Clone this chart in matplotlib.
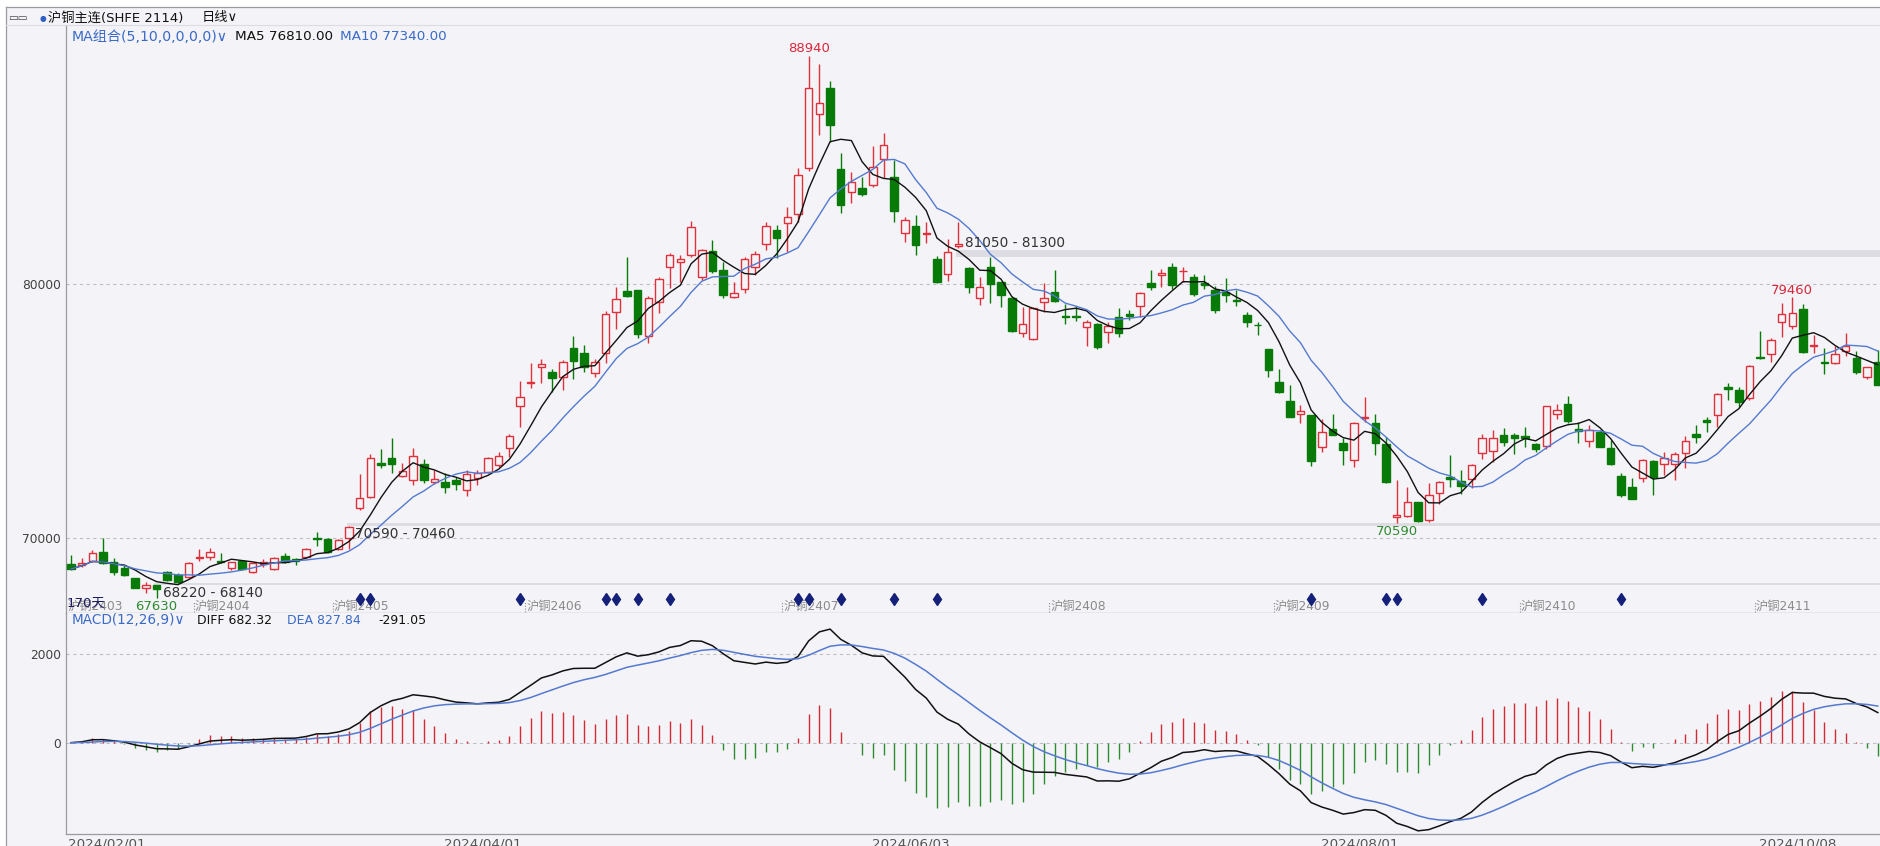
import numpy as np
import pandas as pd
import matplotlib
matplotlib.use("Agg")
import matplotlib.pyplot as plt
from matplotlib.patches import Rectangle
from matplotlib.lines import Line2D
import matplotlib.transforms as mtransforms

plt.rcParams['font.family'] = ['DejaVu Sans', 'Noto Sans CJK SC']

# ---------------- data (daily OHLC, SHFE copper main contract) ----------------
opens = [68950, 68930, 69090, 69450, 69060, 68820, 68400, 68040, 68140, 68640,
         68530, 68440, 69190, 69260, 69090, 68820, 69090, 68670, 68950, 68770,
         69290, 69150, 69260, 70000, 69950, 69560, 69980, 71180, 71620, 72950,
         73120, 72440, 72270, 72900, 72180, 72180, 72270, 71880, 72340, 72600,
         72860, 73520, 75180, 76080, 76730, 76520, 76340, 77450, 77280, 76470,
         77280, 78890, 79710, 79750, 77940, 79290, 80660, 80830, 81120, 80270,
         81290, 80530, 79460, 79770, 80660, 81560, 82110, 82370, 82740, 84530,
         86670, 87680, 84510, 83610, 83750, 83880, 84890, 84180, 82000, 82280,
         81950, 80970, 80380, 81490, 80600, 79420, 80640, 80070, 79420, 78040,
         77810, 79260, 79670, 78740, 78740, 78300, 78410, 78110, 78700, 78800,
         79130, 80010, 80350, 80640, 80480, 80270, 80010, 79750, 79680, 79350,
         78760, 78380, 77410, 76110, 75390, 74870, 74830, 73580, 74270, 73720,
         73060, 74700, 74530, 73670, 70800, 70870, 71420, 70700, 71750, 72400,
         72230, 72300, 73350, 73420, 74040, 74030, 74000, 73670, 73610, 74870,
         75250, 74260, 73820, 74170, 73520, 72430, 71980, 72340, 73030, 72900,
         72900, 73350, 74070, 74630, 74830, 75920, 75810, 75480, 77120, 77230,
         78500, 78340, 79000, 77540, 76900, 76860, 77350, 77060, 76340, 76930]
highs = [69320, 69220, 69520, 70000, 69190, 68930, 68400, 68270, 68140, 68690,
         68600, 69060, 69560, 69580, 69410, 69060, 69120, 69060, 69160, 69260,
         69390, 69220, 69610, 70210, 69980, 69950, 70470, 72490, 73280, 73480,
         73910, 72930, 73540, 73090, 72670, 72530, 72400, 72670, 72670, 73190,
         73390, 74080, 76180, 76860, 77030, 76630, 76990, 77940, 77580, 77030,
         78930, 79850, 81060, 79750, 79510, 80270, 81210, 81120, 82470, 81340,
         81710, 80860, 80070, 81060, 81290, 82430, 82300, 83020, 84530, 88940,
         88640, 87980, 85120, 84400, 84180, 85410, 85910, 84860, 82630, 82700,
         82430, 81080, 81740, 82430, 80660, 80270, 81030, 80070, 79460, 79090,
         79060, 80010, 80530, 79200, 79120, 78570, 78430, 78500, 79020, 78960,
         79680, 80530, 80560, 80790, 80640, 80360, 80340, 79900, 80200, 79750,
         78890, 78500, 77410, 76630, 76010, 75220, 74830, 74660, 74870, 73910,
         74570, 75520, 74850, 73980, 72270, 71980, 71420, 72140, 72240, 73250,
         72660, 72900, 74080, 74240, 74300, 74110, 74370, 73740, 75180, 75250,
         75570, 74570, 74430, 74240, 73840, 72530, 72340, 73080, 73060, 73390,
         73390, 74000, 74440, 74760, 75710, 76100, 75920, 76800, 78130, 77870,
         79220, 79460, 79180, 77980, 77450, 77540, 78070, 77360, 76730, 77390]
lows = [68730, 68860, 69060, 68950, 68530, 68500, 68010, 67810, 67630, 68310,
        68230, 68400, 69090, 69120, 68990, 68720, 68730, 68600, 68860, 68730,
        68990, 68930, 69190, 69680, 69390, 69520, 69560, 71090, 71550, 72730,
        72530, 72400, 72080, 72140, 72120, 71750, 71880, 71640, 72080, 72530,
        72800, 73190, 74370, 75880, 76070, 75750, 75810, 76230, 76530, 76340,
        76860, 78200, 79460, 77840, 77650, 78830, 79810, 80070, 81060, 80140,
        80400, 79420, 79420, 79620, 80340, 81320, 80990, 81250, 82430, 84440,
        85840, 85580, 82760, 83180, 83440, 83810, 84140, 82430, 81650, 81120,
        81580, 80010, 80110, 81390, 79620, 79160, 79220, 79090, 78110, 77910,
        77780, 78890, 79290, 78410, 78540, 77540, 77430, 77650, 77880, 78570,
        78670, 79750, 79850, 79770, 80070, 79510, 79770, 78850, 79290, 79120,
        78280, 77980, 76310, 75680, 74740, 74530, 72820, 73390, 74040, 72860,
        72770, 74570, 73250, 72170, 70590, 70830, 70630, 70630, 71330, 72010,
        71720, 71940, 73080, 72990, 73610, 73280, 73580, 73390, 73480, 74660,
        74530, 73740, 73560, 73560, 72860, 71620, 71510, 72210, 71680, 72470,
        72270, 72730, 73740, 74170, 74370, 75420, 75130, 75420, 77020, 76930,
        77910, 78200, 77280, 77250, 76440, 76830, 77150, 76440, 76230, 76010]
closes = [68770, 69020, 69410, 68990, 68670, 68530, 68040, 68140, 67980, 68340,
          68270, 69020, 69260, 69430, 69030, 69030, 68770, 68990, 69060, 69220,
          69060, 69100, 69540, 69940, 69430, 69910, 70440, 71580, 73120, 72860,
          72900, 72630, 73230, 72270, 72300, 72010, 72100, 72500, 72530, 73120,
          73230, 74020, 75520, 76130, 76820, 76270, 76930, 76970, 76730, 76930,
          78790, 79380, 79510, 78000, 79420, 80180, 81120, 80950, 82210, 81320,
          80510, 79550, 79620, 80970, 81150, 82280, 81780, 82610, 84270, 87680,
          87090, 86240, 83090, 84010, 83520, 84600, 85450, 82870, 82500, 81520,
          81980, 80070, 81250, 81540, 79880, 79880, 79980, 79550, 78130, 78400,
          79020, 79420, 79330, 78700, 78670, 78500, 77520, 78340, 78070, 78720,
          79640, 79880, 80400, 79940, 80500, 79590, 79940, 78960, 79550, 79310,
          78500, 78360, 76600, 75750, 74740, 75000, 73030, 74170, 74040, 73450,
          74500, 74760, 73710, 72210, 70890, 71420, 70670, 71680, 72190, 72300,
          72030, 72860, 73940, 73910, 73780, 73940, 73940, 73480, 75180, 75020,
          74590, 74210, 74240, 73580, 72900, 71680, 71510, 73060, 72380, 73150,
          73280, 73820, 73980, 74540, 75650, 75850, 75350, 76770, 77080, 77780,
          78790, 78850, 77320, 77580, 76860, 77210, 77540, 76530, 76730, 76010]

date_labels = ["2024/02/01", "2024/04/01", "2024/06/03", "2024/08/01", "2024/10/08"]
date_index = [0, 36, 76, 118, 159]
contracts = ["沪铜2403", "沪铜2404", "沪铜2405", "沪铜2406", "沪铜2407",
             "沪铜2408", "沪铜2409", "沪铜2410", "沪铜2411"]
contract_start = [0, 12, 25, 43, 67, 92, 113, 136, 158]
signal_index = [27, 28, 42, 50, 51, 53, 56, 68, 69, 72, 77, 81, 116, 123, 124, 132, 145]
gap_start = [8, 26, 83]
gap_low = [68140, 70460, 81050]
gap_high = [68220, 70590, 81300]
gap_text = ["68220 - 68140", "70590 - 70460", "81050 - 81300"]
gap_text_above = [False, False, True]

y_ticks_price = [70000, 80000]
y_ticks_macd = [0, 2000]

# ---------------- indicators ----------------
c = pd.Series(closes, dtype=float)
ma5 = c.rolling(5, min_periods=1).mean()
ma10 = c.rolling(10, min_periods=1).mean()
ema12 = c.ewm(span=12, adjust=False).mean()
ema26 = c.ewm(span=26, adjust=False).mean()
diff = ema12 - ema26
dea = diff.ewm(span=9, adjust=False).mean()
macd = 2 * (diff - dea)

n = len(closes)
x = np.arange(n)

# ---------------- figure ----------------
W, H = 1881, 846
BG = '#F4F4F8'
RED = '#E0303A'
GREEN = '#087A08'
BLUE = '#5479D0'
GRIDC = '#BDBDC4'
fig = plt.figure(figsize=(W / 100, H / 100), dpi=100, facecolor=BG)

def fx(px):
    return px / W

def fy(py):
    return 1 - py / H

TOP_LINE = 7
LEFT_LINE = 6
# white outer margins
fig.patches.append(Rectangle((0, fy(TOP_LINE)), 1, TOP_LINE / H, transform=fig.transFigure,
                             facecolor='white', edgecolor='none', zorder=0))
fig.patches.append(Rectangle((0, 0), fx(LEFT_LINE), 1, transform=fig.transFigure,
                             facecolor='white', edgecolor='none', zorder=0))
fig.lines.append(Line2D([fx(LEFT_LINE), 1], [fy(TOP_LINE), fy(TOP_LINE)], transform=fig.transFigure,
                        color='#9A9AA0', lw=0.9))
fig.lines.append(Line2D([fx(LEFT_LINE), fx(LEFT_LINE)], [fy(TOP_LINE), 0], transform=fig.transFigure,
                        color='#9A9AA0', lw=0.9))
fig.lines.append(Line2D([fx(LEFT_LINE), 1], [fy(25), fy(25)], transform=fig.transFigure,
                        color='#DCDCE2', lw=0.8))

left = 66.5
ax1 = fig.add_axes([fx(left), fy(612.7), 1 - fx(left), (612.7 - 25) / H])
ax2 = fig.add_axes([fx(left), fy(834.3), 1 - fx(left), (834.3 - 612.7) / H])
xlim = (-0.42, 169.3)
for ax in (ax1, ax2):
    ax.set_facecolor(BG)
    ax.set_xlim(*xlim)
    ax.set_xticks([])
    for s in ('top', 'right'):
        ax.spines[s].set_visible(False)
    for s in ('left', 'bottom'):
        ax.spines[s].set_color('#9A9AA0')
        ax.spines[s].set_linewidth(0.9)
    ax.tick_params(axis='y', length=0, pad=4, labelsize=8.8, labelcolor='#404040')

ax1.set_ylim(67050, 90169)
ax2.set_ylim(-2065, 2931)
ax1.set_yticks(y_ticks_price)
ax1.set_yticklabels([str(v) for v in y_ticks_price])
ax2.set_yticks(y_ticks_macd)
ax2.set_yticklabels([str(v) for v in y_ticks_macd])
for v in y_ticks_price:
    ax1.axhline(v, color=GRIDC, lw=0.8, ls=(0, (3, 3)), zorder=1)
for v in y_ticks_macd:
    ax2.axhline(v, color=GRIDC, lw=0.8, ls=(0, (3, 3)), zorder=1)

# gap bands
for gs, lo, hi, txt, above in zip(gap_start, gap_low, gap_high, gap_text, gap_text_above):
    ax1.fill_between([gs - 0.2, xlim[1] + 1], [lo, lo], [hi, hi],
                     color='#DCDCE2', lw=0, zorder=1.5)
    if above:
        ax1.annotate(txt, (gs + 0.6, hi), xytext=(0, 0.5), textcoords='offset points',
                     ha='left', va='bottom', fontsize=9.8, color='#333333', zorder=6)
    else:
        ax1.annotate(txt, (gs + 0.6, lo), xytext=(0, -1), textcoords='offset points',
                     ha='left', va='top', fontsize=9.8, color='#333333', zorder=6)

# candles
bw = 0.7
for i in range(n):
    o, h, l, cl = opens[i], highs[i], lows[i], closes[i]
    up = cl >= o
    col = RED if up else GREEN
    ax1.vlines(i, l, h, color=col, lw=1.0, zorder=3)
    bottom = min(o, cl)
    height = max(abs(cl - o), 1)
    if up:
        ax1.add_patch(Rectangle((i - bw / 2, bottom), bw, height, facecolor=BG,
                                edgecolor=col, lw=1.0, zorder=4))
    else:
        ax1.add_patch(Rectangle((i - bw / 2, bottom), bw, height, facecolor=col,
                                edgecolor=col, lw=1.0, zorder=4))

ax1.plot(x, ma5, color='#111111', lw=1.0, zorder=5)
ax1.plot(x, ma10, color=BLUE, lw=1.0, zorder=5)

# extreme labels
imax = int(np.argmax(highs))
ax1.annotate(f"{highs[imax]}", (imax, highs[imax]), xytext=(0, 1), textcoords='offset points',
             ha='center', va='bottom', fontsize=9.5, color='#D8283A', zorder=6)
imax2 = 150 + int(np.argmax(highs[150:]))
ax1.annotate(f"{highs[imax2]}", (imax2, highs[imax2]), xytext=(0, 0.5), textcoords='offset points',
             ha='center', va='bottom', fontsize=9.5, color='#D8283A', zorder=6)
imin2 = 100 + int(np.argmin(lows[100:]))
ax1.annotate(f"{lows[imin2]}", (imin2, lows[imin2]), xytext=(0, -1.5), textcoords='offset points',
             ha='center', va='top', fontsize=9.5, color='#2E8B2E', zorder=6)
imin = int(np.argmin(lows))
ax1.annotate(f"{lows[imin]}", (imin, lows[imin]), xytext=(0, -1.5), textcoords='offset points',
             ha='center', va='top', fontsize=9.5, color='#2E8B2E', zorder=6)

# contract roll labels and signal diamonds
bt1 = mtransforms.blended_transform_factory(ax1.transData, ax1.transAxes)
for name, st in zip(contracts, contract_start):
    if st > 0:
        ax1.plot([st - 0.5, st - 0.5], [0.002, 0.02], transform=bt1, color='#909090',
                 lw=0.8, ls=(0, (1, 1.5)), zorder=6)
    ax1.text(max(st - 0.4, xlim[0] + 0.1), 0.0115, name, transform=bt1, ha='left', va='center',
             fontsize=8.8, color='#8A8A8A', zorder=6)
ax1.plot(signal_index, [0.0235] * len(signal_index), transform=bt1, ls='none',
         marker='d', ms=6, color='#14207A', zorder=6)

# MACD panel
bt2 = mtransforms.blended_transform_factory(ax2.transData, ax2.transAxes)
pos = macd.values >= 0
ax2.vlines(x[pos], 0, macd.values[pos], color='#D42A36', lw=1.0, zorder=3)
ax2.vlines(x[~pos], 0, macd.values[~pos], color='#2E8B2E', lw=1.0, zorder=3)
ax2.plot(x, diff, color='#111111', lw=1.1, zorder=4)
ax2.plot(x, dea, color=BLUE, lw=1.1, zorder=4)

for lab, di in zip(date_labels, date_index):
    xp = max(di - 1.1, xlim[0] + 0.1)
    ax2.text(xp, -0.016, lab, transform=bt2, ha='left', va='top', fontsize=9.7,
             color='#555555', clip_on=False)

# ---------------- header / legends ----------------
fig.text(fx(8), fy(18), "▭▭", fontsize=7.5, color='#444444', va='center', ha='left')
fig.text(fx(40), fy(18), "●", fontsize=5.5, color='#2F5FC0', va='center', ha='left')
fig.text(fx(48), fy(18), "沪铜主连(SHFE 2114)", fontsize=9.5, color='#111111',
         va='center', ha='left')
fig.text(fx(202), fy(18), "日线∨", fontsize=9.5, color='#111111',
         va='center', ha='left')

fig.text(fx(72), fy(37), "MA组合(5,10,0,0,0,0)∨", fontsize=10.2, color='#3A6AC8',
         va='center', ha='left')
fig.text(fx(235), fy(37), "MA5 76810.00", fontsize=9.7, color='#111111', va='center', ha='left')
fig.text(fx(340), fy(37), "MA10 77340.00", fontsize=9.7, color='#3A6AC8', va='center', ha='left')

fig.text(fx(72), fy(620.5), "MACD(12,26,9)∨", fontsize=9.8, color='#3A6AC8', va='center', ha='left')
fig.text(fx(197), fy(620.5), "DIFF 682.32", fontsize=9, color='#111111', va='center', ha='left')
fig.text(fx(287), fy(620.5), "DEA 827.84", fontsize=9, color='#3A6AC8', va='center', ha='left')
fig.text(fx(378), fy(620.5), "-291.05", fontsize=9, color='#111111', va='center', ha='left')

fig.text(fx(67), fy(603), "170天", fontsize=9.5, color='#1C1C60', va='center', ha='left', zorder=10)

fig.savefig("out.png", dpi=100, facecolor=BG)
